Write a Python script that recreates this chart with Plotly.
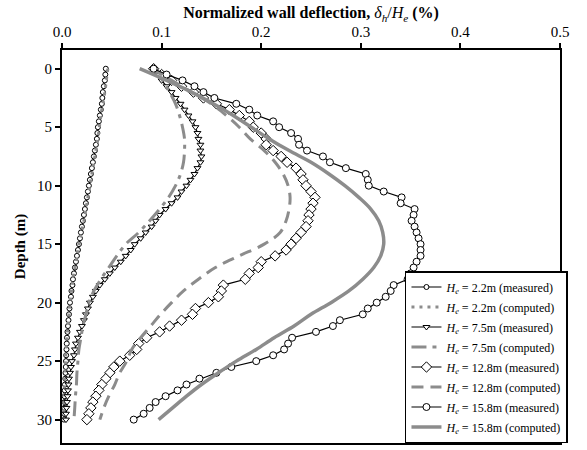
import plotly.graph_objects as go

# ---- wall deflection profiles (normalized deflection in %, depth in m) ----
depth_meas = [i * 0.5 for i in range(61)]  # inclinometer readings every 0.5 m, 0-30 m

defl_22_meas = [0.044, 0.0435, 0.043, 0.042, 0.041, 0.0405, 0.040, 0.039, 0.038, 0.037,
                0.036, 0.0355, 0.035, 0.034, 0.033, 0.032, 0.031, 0.030, 0.029, 0.028,
                0.027, 0.026, 0.025, 0.024, 0.023, 0.022, 0.021, 0.020, 0.019, 0.018,
                0.017, 0.016, 0.015, 0.014, 0.013, 0.012, 0.011, 0.0105, 0.0095, 0.009,
                0.008, 0.0075, 0.007, 0.0065, 0.006, 0.0055, 0.005, 0.0048, 0.0045, 0.0042,
                0.004, 0.0038, 0.0035, 0.0033, 0.003, 0.0028, 0.0026, 0.0025, 0.0023, 0.0022,
                0.002]

defl_75_meas = [0.092, 0.096, 0.100, 0.105, 0.110, 0.114, 0.119, 0.123, 0.127, 0.131,
                0.134, 0.136, 0.137, 0.139, 0.139, 0.140, 0.139, 0.136, 0.133, 0.129,
                0.125, 0.120, 0.116, 0.110, 0.104, 0.098, 0.094, 0.090, 0.084, 0.079,
                0.073, 0.069, 0.064, 0.059, 0.053, 0.048, 0.043, 0.038, 0.034, 0.031,
                0.028, 0.026, 0.024, 0.022, 0.020, 0.018, 0.016, 0.014, 0.013, 0.012,
                0.010, 0.009, 0.008, 0.007, 0.0065, 0.006, 0.0055, 0.005, 0.0045, 0.004,
                0.004]

defl_128_meas = [0.092, 0.100, 0.110, 0.120, 0.132, 0.142, 0.155, 0.168, 0.178, 0.188,
                 0.192, 0.200, 0.205, 0.205, 0.212, 0.220, 0.226, 0.235, 0.240, 0.242,
                 0.245, 0.250, 0.254, 0.252, 0.250, 0.248, 0.247, 0.245, 0.240, 0.235,
                 0.230, 0.225, 0.214, 0.200, 0.197, 0.188, 0.184, 0.162, 0.160, 0.157,
                 0.147, 0.134, 0.131, 0.120, 0.108, 0.098, 0.085, 0.077, 0.075, 0.068,
                 0.058, 0.052, 0.048, 0.044, 0.040, 0.037, 0.034, 0.031, 0.029, 0.027,
                 0.025]

defl_158_meas = [0.092, 0.105, 0.121, 0.133, 0.142, 0.153, 0.175, 0.188, 0.196, 0.212,
                 0.218, 0.230, 0.237, 0.238, 0.246, 0.262, 0.269, 0.285, 0.305, 0.307,
                 0.308, 0.323, 0.341, 0.340, 0.354, 0.353, 0.351, 0.354, 0.356, 0.358,
                 0.360, 0.360, 0.360, 0.356, 0.353, 0.350, 0.347, 0.333, 0.330, 0.325,
                 0.316, 0.307, 0.302, 0.279, 0.272, 0.255, 0.231, 0.227, 0.223, 0.212,
                 0.195, 0.170, 0.155, 0.138, 0.125, 0.116, 0.104, 0.094, 0.088, 0.082,
                 0.072]

depth_comp = list(range(31))  # finite-element output every 1 m

defl_22_comp = [0.046, 0.0445, 0.043, 0.041, 0.039, 0.0375, 0.036, 0.034, 0.032, 0.030,
                0.028, 0.026, 0.024, 0.022, 0.0195, 0.017, 0.015, 0.013, 0.011, 0.0095,
                0.008, 0.007, 0.006, 0.005, 0.004, 0.0035, 0.003, 0.0025, 0.002, 0.0018,
                0.0015]

defl_75_comp = [0.093, 0.101, 0.108, 0.114, 0.118, 0.121, 0.123, 0.123, 0.122, 0.119,
                0.114, 0.107, 0.098, 0.088, 0.077, 0.064, 0.055, 0.047, 0.039, 0.032,
                0.027, 0.024, 0.021, 0.019, 0.017, 0.016, 0.015, 0.0145, 0.0135, 0.0128,
                0.012]

defl_128_comp = [0.090, 0.110, 0.130, 0.150, 0.165, 0.178, 0.189, 0.203, 0.214, 0.222,
                 0.227, 0.229, 0.228, 0.225, 0.219, 0.203, 0.178, 0.154, 0.137, 0.122,
                 0.110, 0.099, 0.089, 0.079, 0.070, 0.065, 0.058, 0.053, 0.047, 0.042,
                 0.038]

defl_158_comp = [0.078, 0.105, 0.130, 0.152, 0.172, 0.190, 0.208, 0.228, 0.250, 0.268,
                 0.284, 0.298, 0.310, 0.318, 0.322, 0.323, 0.320, 0.313, 0.302, 0.288,
                 0.270, 0.250, 0.233, 0.213, 0.195, 0.175, 0.157, 0.140, 0.125, 0.111,
                 0.097]

legend_names = [
    "<i>H<sub>e</sub></i> = 2.2m (measured)",
    "<i>H<sub>e</sub></i> = 2.2m (computed)",
    "<i>H<sub>e</sub></i> = 7.5m (measured)",
    "<i>H<sub>e</sub></i> = 7.5m (computed)",
    "<i>H<sub>e</sub></i> = 12.8m (measured)",
    "<i>H<sub>e</sub></i> = 12.8m (computed)",
    "<i>H<sub>e</sub></i> = 15.8m (measured)",
    "<i>H<sub>e</sub></i> = 15.8m (computed)",
]

FONT = "Liberation Serif"
GRAY = "rgb(140,140,140)"

fig = go.Figure()


def measured(x, name, symbol, size):
    fig.add_trace(go.Scatter(
        x=x, y=depth_meas, name=name, legendgroup=name, mode="lines+markers",
        line=dict(color="black", width=1.2),
        marker=dict(symbol=symbol, size=size, color="white",
                    line=dict(color="black", width=1)),
    ))


def computed(x, name, dash, width):
    fig.add_trace(go.Scatter(
        x=x, y=depth_comp, name=name, legendgroup=name, mode="lines",
        line=dict(color=GRAY, width=width, dash=dash, shape="spline"),
    ))


measured(defl_22_meas, legend_names[0], "circle", 5)
computed(defl_22_comp, legend_names[1], "3px,5px", 3)
measured(defl_75_meas, legend_names[2], "triangle-down", 6)
computed(defl_75_comp, legend_names[3], "15px,6px,4px,6px", 3)
measured(defl_128_meas, legend_names[4], "diamond", 8)
computed(defl_128_comp, legend_names[5], "12px,7px", 3)
measured(defl_158_meas, legend_names[6], "circle", 7)
computed(defl_158_comp, legend_names[7], "solid", 3.5)

fig.update_layout(
    width=587, height=450,
    margin=dict(l=62, r=27, t=50, b=5),
    paper_bgcolor="white", plot_bgcolor="white",
    font=dict(family=FONT, size=14, color="black"),
    showlegend=True,
    legend=dict(
        x=1.016, xanchor="right", y=0.0, yanchor="bottom",
        bgcolor="white", bordercolor="black", borderwidth=1.5,
        font=dict(family=FONT, size=12),
        tracegroupgap=1, itemwidth=30,
    ),
    xaxis=dict(
        side="top", range=[0, 0.5], dtick=0.1, tick0=0, tickformat=".1f",
        ticks="outside", ticklen=5, tickwidth=1.5, tickcolor="black",
        showline=True, linecolor="black", linewidth=2, mirror=True,
        showgrid=False, zeroline=False,
        tickfont=dict(family=FONT, size=15),
        title=dict(
            text="<b>Normalized wall deflection, </b><i>δ<sub>h</sub></i>/<i>H<sub>e</sub></i><b> (%)</b>",
            font=dict(family=FONT, size=16), standoff=1,
        ),
    ),
    yaxis=dict(
        range=[32, -1.6], dtick=5, tick0=0,
        ticks="outside", ticklen=5, tickwidth=1.5, tickcolor="black",
        showline=True, linecolor="black", linewidth=2, mirror=True,
        showgrid=False, zeroline=False,
        tickfont=dict(family=FONT, size=15),
        title=dict(text="<b>Depth (m)</b>", font=dict(family=FONT, size=15), standoff=8),
    ),
)

fig.write_html("out.html")
